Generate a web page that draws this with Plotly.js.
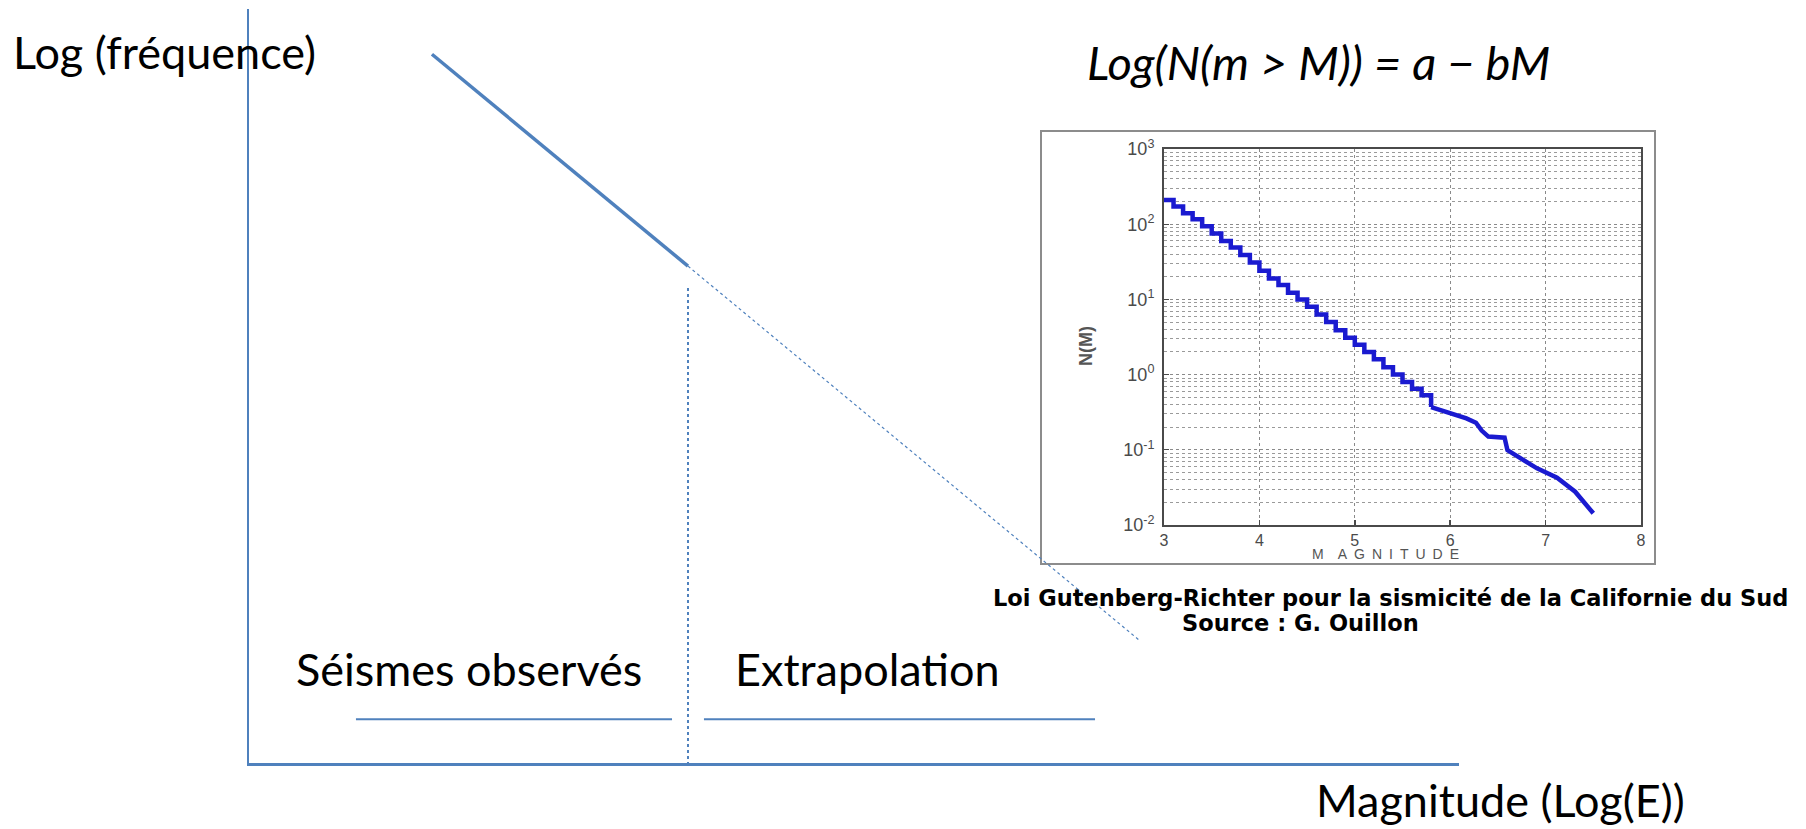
<!DOCTYPE html>
<html>
<head>
<meta charset="utf-8">
<script src="https://cdn.plot.ly/plotly-3.0.1.min.js"></script>
<style>html,body{margin:0;padding:0;background:#fff;}#chart{width:1806px;height:829px;}</style>
</head>
<body>
<div id="chart"></div>
<script>
// ---- Schematic (main) chart data: magnitude (arbitrary units) vs log(frequency) ----
const observedMag = [1.512, 3.628];
const observedLogF = [9.40, 6.59];
const extrapMag = [3.628, 7.364];
const extrapLogF = [6.59, 1.62];
const limitMag = [3.628, 3.628];
const limitLogF = [6.30, 0];
const bracketMag = [0.884, 3.496, null, 3.760, 6.992];
const bracketLogF = [0.58, 0.58, null, 0.58, 0.58];

// ---- Inset: Gutenberg-Richter, Southern California ----
const stepMag = [3.0, 3.1, 3.2, 3.3, 3.4, 3.5, 3.6, 3.7, 3.8, 3.9,
                 4.0, 4.1, 4.2, 4.3, 4.4, 4.5, 4.6, 4.7, 4.8, 4.9,
                 5.0, 5.1, 5.2, 5.3, 5.4, 5.5, 5.6, 5.7, 5.8];
const stepN = [210, 172, 140, 116, 94, 75, 60, 49, 39, 31,
               24, 19, 15.5, 12.3, 10, 8.0, 6.3, 5.0, 3.9, 3.1,
               2.5, 2.0, 1.6, 1.25, 1.0, 0.8, 0.65, 0.53, 0.37];
const tailMag = [5.8, 5.98, 6.17, 6.27, 6.33, 6.40, 6.57, 6.60, 6.75, 6.91, 7.12, 7.31, 7.50];
const tailN = [0.37, 0.315, 0.262, 0.229, 0.18, 0.150, 0.145, 0.099, 0.075, 0.0567, 0.0426, 0.0277, 0.0143];
const insetXTicks = [3, 4, 5, 6, 7, 8];
const insetYTicks = [0.01, 0.1, 1, 10, 100, 1000];
const insetYLabels = ['10<sup>-2</sup>', '10<sup>-1</sup>', '10<sup>0</sup>', '10<sup>1</sup>', '10<sup>2</sup>', '10<sup>3</sup>'];

const W = 1806, H = 829;
const px = v => v / W;
const py = v => (H - v) / H;

const mainBlue = '#4f81bd';
const curveBlue = '#1a1ad0';
const mainFont = 'Lato, "Open Sans", sans-serif';
const capFont = '"Liberation Sans", Arial, sans-serif';
const captionFont = '"DejaVu Sans", "Liberation Sans", sans-serif';
const grey = '#4a4a4a';

const traces = [
  {x: observedMag, y: observedLogF, xaxis: 'x', yaxis: 'y', mode: 'lines',
   line: {color: mainBlue, width: 3.5}, hoverinfo: 'skip'},
  {x: extrapMag, y: extrapLogF, xaxis: 'x', yaxis: 'y', mode: 'lines',
   line: {color: mainBlue, width: 1.2, dash: 'dot'}, hoverinfo: 'skip'},
  {x: limitMag, y: limitLogF, xaxis: 'x', yaxis: 'y', mode: 'lines',
   line: {color: mainBlue, width: 2, dash: 'dot'}, hoverinfo: 'skip'},
  {x: bracketMag, y: bracketLogF, xaxis: 'x', yaxis: 'y', mode: 'lines',
   line: {color: mainBlue, width: 2}, connectgaps: false, hoverinfo: 'skip'},
  {x: stepMag, y: stepN, xaxis: 'x2', yaxis: 'y2', mode: 'lines',
   line: {color: curveBlue, width: 4.5, shape: 'hv'}},
  {x: tailMag, y: tailN, xaxis: 'x2', yaxis: 'y2', mode: 'lines',
   line: {color: curveBlue, width: 4.5}}
];

const layout = {
  width: W, height: H,
  margin: {l: 0, r: 0, t: 0, b: 0},
  paper_bgcolor: '#ffffff',
  plot_bgcolor: 'rgba(0,0,0,0)',
  showlegend: false,
  xaxis: {domain: [px(249), px(1459)], range: [0, 10], anchor: 'y',
    showline: true, linecolor: mainBlue, linewidth: 2.5,
    showgrid: false, zeroline: false, showticklabels: false, ticks: ''},
  yaxis: {domain: [py(763), py(9)], range: [0, 10], anchor: 'x',
    showline: true, linecolor: mainBlue, linewidth: 2.5,
    showgrid: false, zeroline: false, showticklabels: false, ticks: ''},
  xaxis2: {domain: [px(1164), px(1641)], range: [3, 8], anchor: 'y2',
    tickmode: 'array', tickvals: insetXTicks,
    ticks: 'inside', ticklen: 5, tickcolor: grey, tickwidth: 1.5,
    showgrid: true, gridcolor: '#8a8a8a', griddash: 'dot', gridwidth: 1,
    showline: true, mirror: true, linecolor: grey, linewidth: 2,
    zeroline: false,
    tickfont: {family: capFont, size: 16, color: grey}},
  yaxis2: {domain: [py(525), py(149)], type: 'log', range: [-2, 3], anchor: 'x2',
    tickmode: 'array', tickvals: insetYTicks, ticktext: insetYLabels,
    ticks: 'inside', ticklen: 5, tickcolor: grey,
    showgrid: true, gridcolor: '#8a8a8a', griddash: 'dot', gridwidth: 1,
    minor: {dtick: 'D1', showgrid: true, gridcolor: '#9a9a9a', griddash: 'dot', gridwidth: 1, ticks: ''},
    showline: true, mirror: true, linecolor: grey, linewidth: 2,
    zeroline: false, ticklabelstandoff: 4,
    tickfont: {family: capFont, size: 18, color: grey}},
  shapes: [
    {type: 'rect', xref: 'paper', yref: 'paper', x0: px(1041), x1: px(1655), y0: py(564), y1: py(131),
     line: {color: '#8c8c8c', width: 2}, fillcolor: 'rgba(0,0,0,0)', layer: 'below'}
  ],
  annotations: [
    {text: 'Log (fréquence)', xref: 'paper', yref: 'paper', x: px(11), y: py(52),
     xanchor: 'left', yanchor: 'middle', showarrow: false,
     font: {family: mainFont, size: 45, color: '#000'}},
    {text: '<i>Log(N(m &gt; M)) = a − bM</i>', xref: 'paper', yref: 'paper', x: px(1318), y: py(62),
     xanchor: 'center', yanchor: 'middle', showarrow: false,
     font: {family: mainFont, size: 47, color: '#000'}},
    {text: 'Séismes observés', xref: 'paper', yref: 'paper', x: px(469), y: py(669),
     xanchor: 'center', yanchor: 'middle', showarrow: false,
     font: {family: mainFont, size: 45, color: '#000'}},
    {text: 'Extrapolation', xref: 'paper', yref: 'paper', x: px(867), y: py(669),
     xanchor: 'center', yanchor: 'middle', showarrow: false,
     font: {family: mainFont, size: 45, color: '#000'}},
    {text: 'Magnitude (Log(E))', xref: 'paper', yref: 'paper', x: px(1500), y: py(800),
     xanchor: 'center', yanchor: 'middle', showarrow: false,
     font: {family: mainFont, size: 45, color: '#000'}},
    {text: 'Loi Gutenberg-Richter pour la sismicité de la Californie du Sud', xref: 'paper', yref: 'paper',
     x: px(1390), y: py(598), xanchor: 'center', yanchor: 'middle', showarrow: false,
     font: {family: captionFont, size: 22.5, color: '#000', weight: 'bold'}},
    {text: 'Source : G. Ouillon', xref: 'paper', yref: 'paper',
     x: px(1300), y: py(623), xanchor: 'center', yanchor: 'middle', showarrow: false,
     font: {family: captionFont, size: 22.5, color: '#000', weight: 'bold'}},
    {text: '<b>N(M)</b>', xref: 'paper', yref: 'paper', x: px(1086), y: py(346), textangle: -90,
     xanchor: 'center', yanchor: 'middle', showarrow: false,
     font: {family: capFont, size: 18, color: '#555'}},
    {text: 'M\u2003A\u2002G\u2002N\u2002I\u2002T\u2002U\u2002D\u2002E', xref: 'paper', yref: 'paper', x: px(1385), y: py(554),
     xanchor: 'center', yanchor: 'middle', showarrow: false,
     font: {family: capFont, size: 14, color: '#555'}}
  ]
};

Plotly.newPlot('chart', traces, layout, {staticPlot: true, displayModeBar: false});
</script>
</body>
</html>
